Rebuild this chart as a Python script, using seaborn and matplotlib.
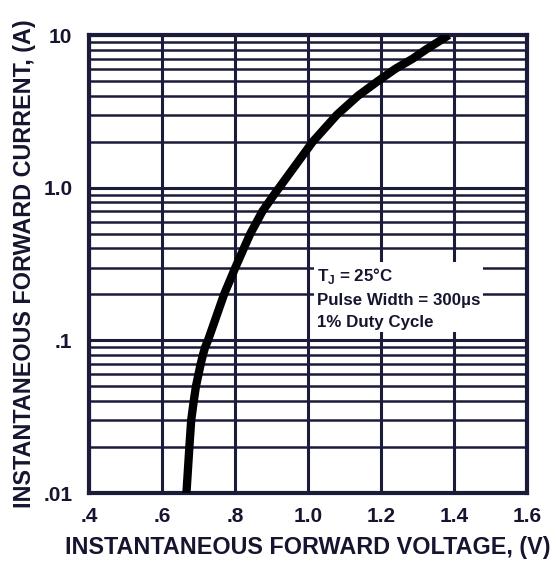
import matplotlib
matplotlib.use("Agg")
import matplotlib.pyplot as plt
import seaborn as sns
import pandas as pd
from matplotlib.ticker import FixedLocator, LogLocator, NullFormatter, FixedFormatter

voltage = [0.667, 0.675, 0.680, 0.687, 0.693, 0.700, 0.706, 0.712, 0.718, 0.726,
           0.770, 0.801, 0.824, 0.842, 0.860, 0.875, 0.892, 0.907, 0.921,
           1.013, 1.079, 1.137, 1.192, 1.239, 1.287, 1.322, 1.356, 1.386]
current = [0.01, 0.02, 0.03, 0.04, 0.05, 0.06, 0.07, 0.08, 0.09, 0.1,
           0.2, 0.3, 0.4, 0.5, 0.6, 0.7, 0.8, 0.9, 1.0,
           2.0, 3.0, 4.0, 5.0, 6.0, 7.0, 8.0, 9.0, 10.0]
x_ticks = [0.4, 0.6, 0.8, 1.0, 1.2, 1.4, 1.6]
x_tick_labels = [".4", ".6", ".8", "1.0", "1.2", "1.4", "1.6"]
y_ticks = [0.01, 0.1, 1.0, 10.0]
y_tick_labels = [".01", ".1", "1.0", "10"]
note_lines = ["T$_\\mathregular{J}$ = 25°C", "Pulse Width = 300µs", "1% Duty Cycle"]

sns.set_theme(style="white")
plt.rcParams['font.family'] = ['Liberation Sans', 'DejaVu Sans']
plt.rcParams['font.weight'] = 'bold'

ink = "#1b1b3a"
txt = "#151530"
fig = plt.figure(figsize=(5.58, 5.65), dpi=100)
ax = fig.add_axes([0.1595, 0.1274, 0.9444 - 0.1595, 0.938 - 0.1274])

df = pd.DataFrame({"V": voltage, "I": current})
ax.set_yscale("log")
sns.lineplot(data=df, x="V", y="I", ax=ax, color="black", linewidth=6, sort=False,
             solid_capstyle="butt", solid_joinstyle="round", zorder=5)

ax.set_xlim(0.4, 1.6)
ax.set_ylim(0.01, 10)
ax.xaxis.set_major_locator(FixedLocator(x_ticks))
ax.xaxis.set_major_formatter(FixedFormatter(x_tick_labels))
ax.yaxis.set_major_locator(FixedLocator(y_ticks))
ax.yaxis.set_major_formatter(FixedFormatter(y_tick_labels))
ax.yaxis.set_minor_locator(LogLocator(base=10, subs=range(2, 10)))
ax.yaxis.set_minor_formatter(NullFormatter())

ax.grid(True, which="major", axis="both", color=ink, linewidth=2.2)
ax.grid(True, which="minor", axis="y", color=ink, linewidth=1.8)
ax.set_axisbelow(True)
for s in ax.spines.values():
    s.set_color(ink)
    s.set_linewidth(3)
    s.set_visible(True)

ax.tick_params(axis="x", which="both", length=0, labelsize=15, colors=txt, pad=10)
ax.tick_params(axis="y", which="both", length=0, labelsize=15, colors=txt, pad=12)
for lab in ax.get_xticklabels() + ax.get_yticklabels():
    lab.set_fontweight("bold")

ax.set_xlabel("INSTANTANEOUS FORWARD VOLTAGE, (V)", fontsize=16.8, fontweight="bold",
              color=txt, labelpad=7)
ax.set_ylabel("INSTANTANEOUS FORWARD CURRENT, (A)", fontsize=16.8, fontweight="bold",
              color=txt, labelpad=5)

ax.text(0.521, 0.426, "\n".join(note_lines), transform=ax.transAxes, fontsize=12.2,
        fontweight="bold", color=txt, va="center", ha="left", linespacing=1.55, zorder=4,
        bbox=dict(facecolor="white", edgecolor="none", pad=2))

fig.savefig("out.png", dpi=100, facecolor="white")
